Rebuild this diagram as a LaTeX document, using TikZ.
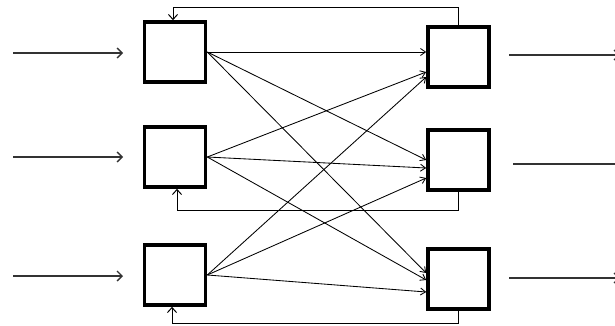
\documentclass[tikz,border=0pt]{standalone}
\usetikzlibrary{arrows.meta,calc}
\begin{document}
\begin{tikzpicture}[x=1pt,y=-1pt,
  block/.style={draw,line width=3.6pt,minimum width=61pt,minimum height=60pt,inner sep=0pt},
  link/.style={line width=0.85pt,-{Straight Barb[length=5pt,width=7pt]}},
  feed/.style={line width=1pt,-{Straight Barb[length=5pt,width=9pt]}},
  io/.style={line width=1.7pt,draw=black!80,-{Straight Barb[length=5pt,width=10pt,line width=1.4pt]}}]
\clip (0,0) rectangle (615,326);
\fill[white] (0,0) rectangle (615,326);

% left column
\node[block] (L1) at (175,52) {};
\node[block] (L2) at (175,157) {};
\node[block] (L3) at (175,275) {};
% right column
\node[block] (R1) at (458.5,57) {};
\node[block] (R2) at (458.5,160) {};
\node[block] (R3) at (458.5,279) {};

% inputs
\coordinate (i1) at (13,53);
\coordinate (i2) at (13,157);
\coordinate (i3) at (13,276);
\coordinate (j1) at (123,53);
\coordinate (j2) at (123,157);
\coordinate (j3) at (123,276);
\draw[io] (i1) -- (j1);
\draw[io] (i2) -- (j2);
\draw[io] (i3) -- (j3);

% outputs
\coordinate (o1) at (509,55);
\coordinate (o2) at (513,164);
\coordinate (o3) at (509,278);
\coordinate (p1) at (620,55);
\coordinate (p2) at (622,164);
\coordinate (p3) at (620,278);
\draw[io] (o1) -- (p1);
\draw[io] (o2) -- (p2);
\draw[io] (o3) -- (p3);

% full cross connections
\draw[link] (L1.east) -- ($(R1.west)+(0,-5)$);
\draw[link] (L1.east) -- ($(R2.west)+(0,0)$);
\draw[link] (L1.east) -- ($(R3.west)+(0,-6)$);
\draw[link] (L2.east) -- ($(R1.west)+(0,15)$);
\draw[link] (L2.east) -- ($(R2.west)+(0,8)$);
\draw[link] (L2.east) -- ($(R3.west)+(0,1)$);
\draw[link] (L3.east) -- ($(R1.west)+(0,20)$);
\draw[link] (L3.east) -- ($(R2.west)+(0,18)$);
\draw[link] (L3.east) -- ($(R3.west)+(0,13)$);

% feedback paths
\draw[feed] (R1.north) -- ++(0,-18) -| ($(L1.north)+(-2,0)$);
\draw[feed] (R2.south) -- ++(0,19) -| ($(L2.south)+(2,0)$);
\draw[feed] (R3.south) -- ++(0,13) -| ($(L3.south)+(-3,0)$);
\end{tikzpicture}
\end{document}
